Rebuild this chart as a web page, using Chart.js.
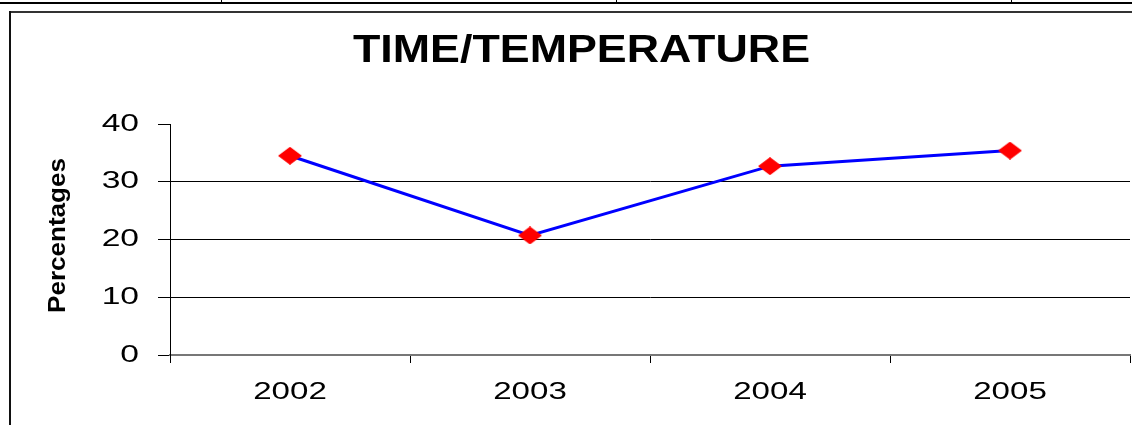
<!DOCTYPE html>
<html>
<head>
<meta charset="utf-8">
<title>TIME/TEMPERATURE</title>
<script src="https://cdn.jsdelivr.net/npm/chart.js@4/dist/chart.umd.min.js"></script>
<style>
  body { margin: 0; background: #fff; overflow: hidden; }
  #wrap { position: relative; width: 1132px; height: 425px; }
  #chart { position: absolute; left: 0; top: 0; }
  .line { position: absolute; background: #000; }
</style>
</head>
<body>
<div id="wrap">
  <canvas id="chart" width="1132" height="425"></canvas>
  <!-- page table rule above the chart box -->
  <div class="line" style="left:0;top:2px;width:1132px;height:2px;"></div>
  <div class="line" style="left:221px;top:0;width:1px;height:3px;"></div>
  <div class="line" style="left:616px;top:0;width:1px;height:3px;"></div>
  <div class="line" style="left:1011px;top:0;width:1px;height:3px;"></div>
  <!-- chart box border -->
  <div class="line" style="left:9px;top:11px;width:1123px;height:2px;background:#333;"></div>
  <div class="line" style="left:9px;top:11px;width:2px;height:414px;background:#111;"></div>
</div>
<script>
const years = ['2002', '2003', '2004', '2005'];
const percentages = [34.5, 20.7, 32.7, 35.4];
const yMin = 0;
const yMax = 40;
const yStep = 10;
const chartTitle = 'TIME/TEMPERATURE';
const yTitle = 'Percentages';

const FONT = "'Liberation Sans', Arial, sans-serif";

// red diamond marker
const diamond = document.createElement('canvas');
diamond.width = 24;
diamond.height = 18;
const dc = diamond.getContext('2d');
dc.fillStyle = '#ff0000';
dc.beginPath();
dc.moveTo(0, 9);
dc.lineTo(12, 0);
dc.lineTo(24, 9);
dc.lineTo(12, 18);
dc.closePath();
dc.fill();

function stretchedText(ctx, text, x, y, sx, align) {
    ctx.save();
    ctx.translate(x, y);
    ctx.scale(sx, 1);
    ctx.textAlign = align;
    ctx.fillText(text, 0, 0);
    ctx.restore();
}

// tick labels and titles are drawn a bit wide, like the original
const textPlugin = {
    id: 'textPlugin',
    afterDraw(chart) {
        const ctx = chart.ctx;
        const xs = chart.scales.x;
        const ys = chart.scales.y;
        ctx.save();
        ctx.fillStyle = '#000';
        ctx.textBaseline = 'middle';

        ctx.font = '24px ' + FONT;
        ys.ticks.forEach((t) => {
            stretchedText(ctx, String(t.value), 139, ys.getPixelForValue(t.value), 1.4, 'right');
        });
        years.forEach((label, i) => {
            stretchedText(ctx, label, xs.getPixelForValue(i), 392, 1.38, 'center');
        });

        ctx.font = 'bold 39px ' + FONT;
        const tw = ctx.measureText(chartTitle).width;
        stretchedText(ctx, chartTitle, 581.5, 51, 457 / tw, 'center');

        ctx.font = 'bold 24px ' + FONT;
        const lw = ctx.measureText(yTitle).width;
        ctx.translate(58, 235.5);
        ctx.rotate(-Math.PI / 2);
        stretchedText(ctx, yTitle, 0, 0, 155 / lw, 'center');
        ctx.restore();
    }
};

new Chart(document.getElementById('chart'), {
    type: 'line',
    data: {
        labels: years,
        datasets: [
            {
                label: 'Percentages',
                data: percentages,
                borderColor: '#0000ff',
                borderWidth: 3,
                fill: false,
                tension: 0,
                pointStyle: diamond,
                pointRadius: 10,
            },
        ],
    },
    options: {
        responsive: false,
        animation: false,
        devicePixelRatio: 1,
        layout: { autoPadding: false, padding: { top: 124, right: 2, left: 0, bottom: 0 } },
        plugins: { legend: { display: false }, title: { display: false }, tooltip: { enabled: false } },
        scales: {
            x: {
                type: 'category',
                offset: true,
                ticks: { display: false },
                grid: { offset: true, drawOnChartArea: false, drawTicks: true, tickLength: 8, color: '#000', tickColor: '#000' },
                border: { color: '#777', width: 2 },
                afterFit: (scale) => { scale.height = 70; },
            },
            y: {
                min: yMin,
                max: yMax,
                ticks: { display: false, stepSize: yStep },
                grid: {
                    color: (c) => (c.tick && (c.tick.value === yMin || c.tick.value === yMax)) ? 'rgba(0,0,0,0)' : '#000',
                    tickColor: '#000',
                    tickLength: 12,
                    drawTicks: true,
                },
                border: { color: '#000', width: 1 },
                afterFit: (scale) => { scale.width = 170; },
            },
        },
    },
    plugins: [textPlugin],
});
</script>
</body>
</html>
